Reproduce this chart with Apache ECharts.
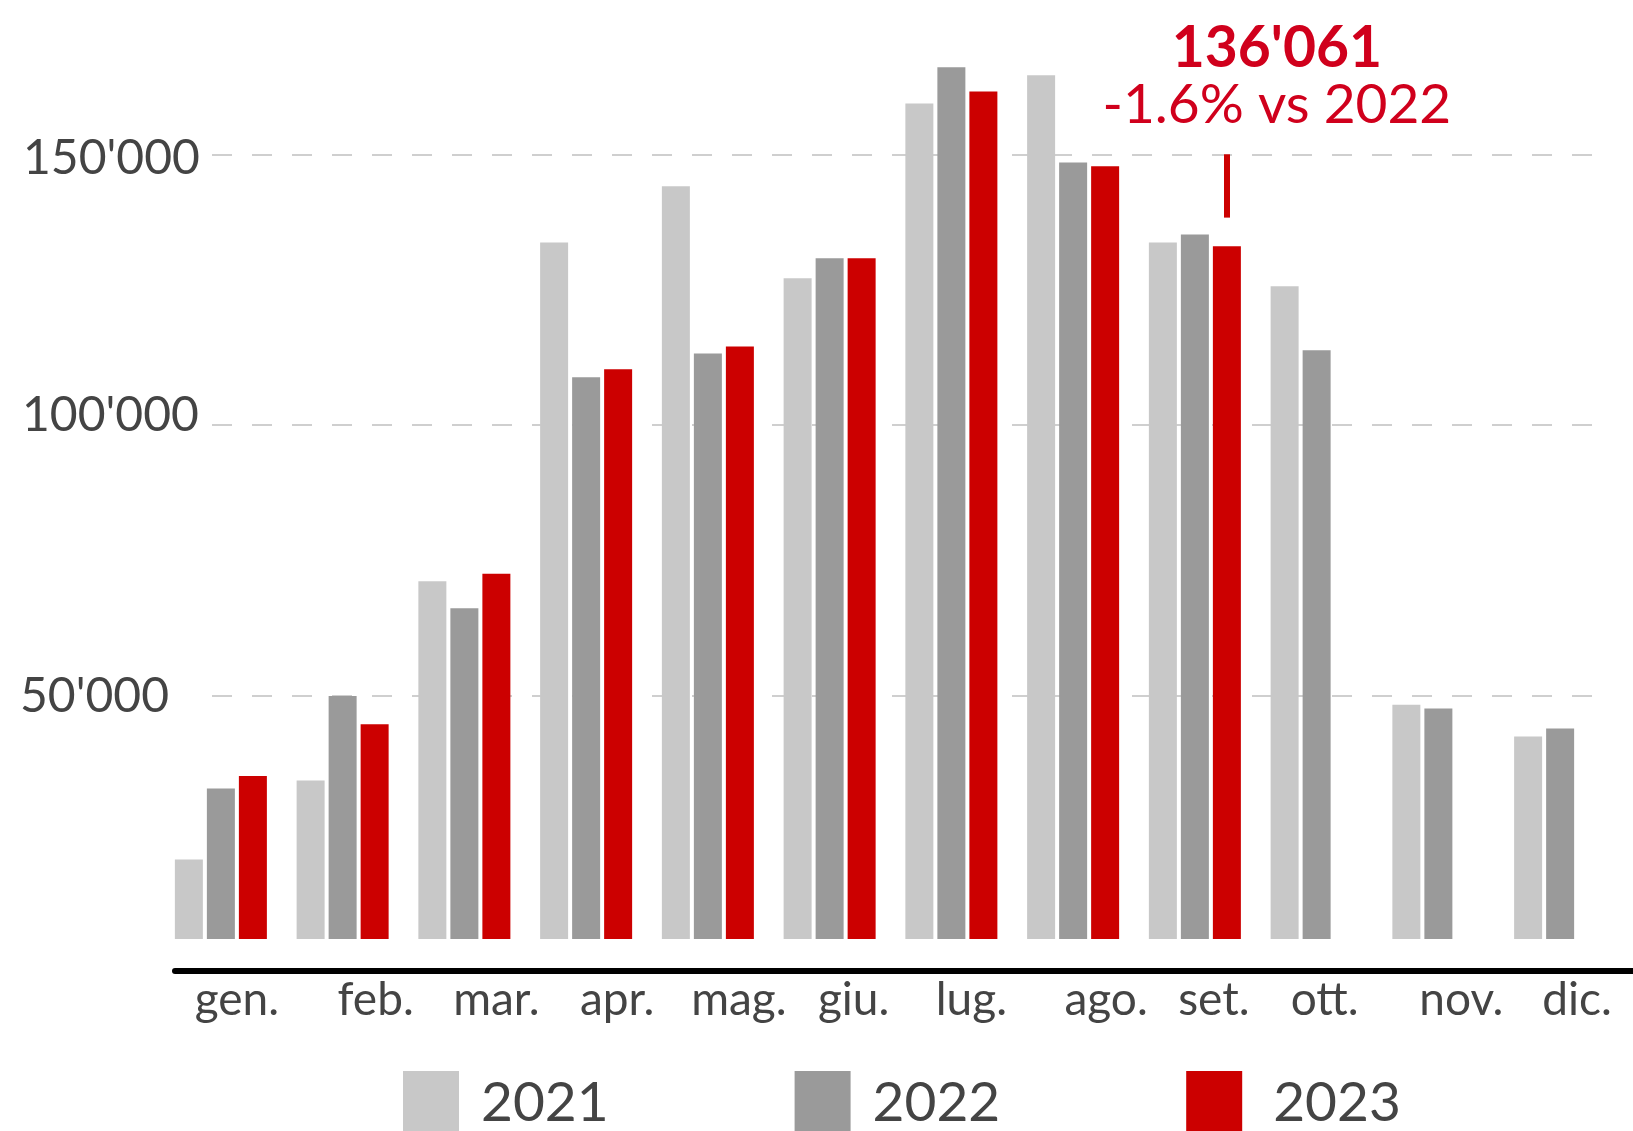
<!DOCTYPE html>
<html>
<head>
<meta charset="utf-8">
<script src="https://cdn.jsdelivr.net/npm/echarts@6/dist/echarts.min.js"></script>
<style>
  html, body { margin: 0; padding: 0; background: #ffffff; }
  #chart { width: 1633px; height: 1131px; }
</style>
</head>
<body>
<div id="chart"></div>
<script>
// ---- data ----
const months = ['gen.', 'feb.', 'mar.', 'apr.', 'mag.', 'giu.', 'lug.', 'ago.', 'set.', 'ott.', 'nov.', 'dic.'];
const years = ['2021', '2022', '2023'];
const values2021 = [19700, 34300, 71100, 133700, 144100, 127100, 159400, 164600, 133700, 125600, 48300, 42400];
const values2022 = [32800, 49900, 66100, 108800, 113200, 130800, 166100, 148500, 135200, 113800, 47600, 43900];
const values2023 = [35100, 44700, 72500, 110300, 114500, 130800, 161600, 147800, 133000, null, null, null];
const yTicks = [50000, 100000, 150000];
const annoMonth = 'set.';
const annoTotal = 136061;
const annoChange = '-1.6% vs 2022';

// ---- helpers / styling ----
const fmt = v => String(v).replace(/\B(?=(\d{3})+(?!\d))/g, "'");
const FONT = 'Lato';
const TXT = '#444444';
const RED = '#cc0000';
const ANNO_RED = '#d0001c';
const colors = ['#c8c8c8', '#9a9a9a', RED];
const seriesValues = [values2021, values2022, values2023];
const yMinBars = 5000, yMax = 175000;

// label placement tweaks (layout only)
const xLabelNudge = [16, 33, 32, 31, 31, 24, 20, 33, 19, 8, 23, 17];
const yLabelShift = { 50000: [2, 0, 0, 0], 100000: [0, 0, 18, 2], 150000: [8, 0, 0, 3] };
const legendTextPad = [17, 17, 26];

const chart = echarts.init(document.getElementById('chart'), null, { renderer: 'canvas' });

const yRich = {};
yTicks.forEach(t => {
  const p = yLabelShift[t];
  yRich['t' + t] = { fontFamily: FONT, fontSize: 48, color: TXT, padding: [p[0], 0, p[2], p[3]] };
});

const series = years.map((y, i) => {
  const s = {
    name: y,
    type: 'bar',
    xAxisIndex: 1,
    yAxisIndex: 1,
    data: seriesValues[i],
    barWidth: 28,
    barGap: '14.3%',
    clip: true,
    itemStyle: { color: colors[i] },
    emphasis: { disabled: true },
    animation: false
  };
  if (i === 2) {
    const idx = months.indexOf(annoMonth);
    s.markLine = {
      silent: true,
      animation: false,
      symbol: ['none', 'none'],
      label: { show: false },
      lineStyle: { color: RED, width: 6, type: 'solid' },
      emphasis: { disabled: true },
      data: [[{ coord: [idx, 150000] }, { coord: [idx, 138300] }]]
    };
    s.markPoint = {
      silent: true,
      animation: false,
      symbol: 'rect',
      symbolSize: [1, 1],
      itemStyle: { color: 'rgba(0,0,0,0)' },
      label: {
        show: true,
        position: 'inside',
        offset: [50, 0],
        formatter: '{a|' + fmt(annoTotal) + '}\n{b|' + annoChange + '}',
        rich: {
          a: { fontFamily: FONT, fontSize: 57, fontWeight: 'bold', color: ANNO_RED, lineHeight: 56, align: 'center' },
          b: { fontFamily: FONT, fontSize: 55, color: ANNO_RED, lineHeight: 56, align: 'center' }
        }
      },
      data: [{ coord: [idx, 164300] }]
    };
  }
  return s;
});

const option = {
  backgroundColor: '#ffffff',
  animation: false,
  textStyle: { fontFamily: FONT },
  grid: [
    { left: 212, right: 38, top: 19, bottom: 164.9, containLabel: false },
    { left: 160, right: 12, top: 19, bottom: 192, containLabel: false },
    { left: 175, right: 0, top: 19, bottom: 192, containLabel: false }
  ],
  legend: {
    data: years.map((y, i) => ({ name: y, textStyle: { padding: [0, 0, 0, legendTextPad[i]] } })),
    left: 403,
    top: 1071,
    padding: 0,
    icon: 'rect',
    itemWidth: 56,
    itemHeight: 65,
    itemGap: 186,
    selectedMode: false,
    itemStyle: { borderWidth: 0 },
    textStyle: { fontFamily: FONT, fontSize: 55, color: TXT }
  },
  xAxis: [
    { gridIndex: 0, type: 'value', show: false, min: 0, max: 1 },
    {
      gridIndex: 1, type: 'category', offset: 32,
      data: months.map((m, i) => ({ value: m, textStyle: { padding: [0, 0, 0, 2 * xLabelNudge[i]] } })),
      axisLine: { show: false, onZero: false }, axisTick: { show: false },
      axisLabel: { fontFamily: FONT, fontSize: 46, color: TXT, margin: 6, interval: 0 }
    },
    {
      gridIndex: 2, type: 'value', min: 0, max: 1, offset: 32,
      axisLine: { show: true, onZero: false, lineStyle: { color: '#000000', width: 6 } },
      axisTick: { show: false }, axisLabel: { show: false }, splitLine: { show: false }
    }
  ],
  yAxis: [
    {
      gridIndex: 0, type: 'value', min: 0, max: yMax, interval: yTicks[0],
      axisLine: { show: false }, axisTick: { show: false },
      axisLabel: {
        showMinLabel: false, showMaxLabel: false,
        align: 'left', margin: 192, fontFamily: FONT, fontSize: 48, color: TXT,
        formatter: v => (yTicks.indexOf(v) >= 0 ? '{t' + v + '|' + fmt(v) + '}' : ''),
        rich: yRich
      },
      splitLine: {
        show: true, showMinLine: false, showMaxLine: false,
        lineStyle: { color: '#cfcfcf', width: 2, type: [20, 20] }
      }
    },
    { gridIndex: 1, type: 'value', min: yMinBars, max: yMax, show: false, splitLine: { show: false } },
    { gridIndex: 2, type: 'value', min: 0, max: 1, show: false, splitLine: { show: false } }
  ],
  series: series
};

chart.setOption(option);
</script>
</body>
</html>
